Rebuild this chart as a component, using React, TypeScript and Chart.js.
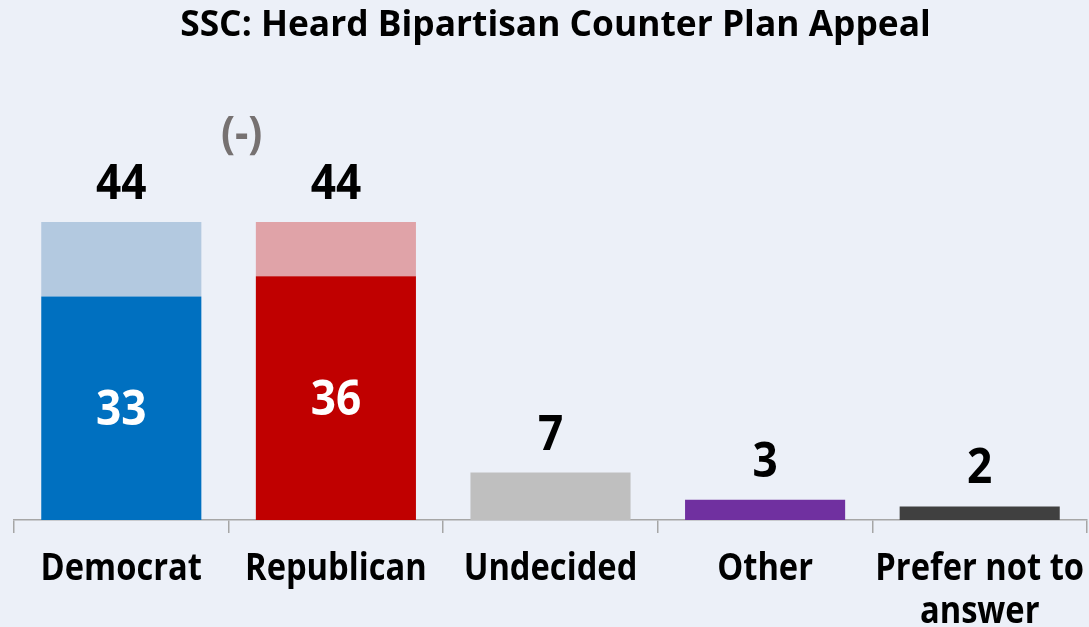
import React, { useEffect, useRef } from "react";
import { Chart, registerables } from "chart.js";

Chart.register(...registerables);

const chartTitle = "SSC: Heard Bipartisan Counter Plan Appeal";
const categories: (string | string[])[] = ["Democrat", "Republican", "Undecided", "Other", ["Prefer not to", "answer"]];
const heardValues = [33, 36, 7, 3, 2];
const addedValues = [11, 8, 0, 0, 0];
const solidColors = ["#0070C0", "#C00000", "#BFBFBF", "#7030A0", "#404040"];
const lightColors = ["#B3C9E0", "#E0A3A8", "#BFBFBF", "#7030A0", "#404040"];
const changeNote = "(-)";

const FONT = "'Open Sans', 'DejaVu Sans', sans-serif";
const BG = "#ECF0F8";

function drawText(
  ctx: CanvasRenderingContext2D,
  text: string,
  x: number,
  y: number,
  size: number,
  color: string,
  scaleX: number,
  baseline: CanvasTextBaseline = "alphabetic"
) {
  ctx.save();
  ctx.translate(x, y);
  ctx.scale(scaleX, 1);
  ctx.font = `bold ${size}px ${FONT}`;
  ctx.fillStyle = color;
  ctx.textAlign = "center";
  ctx.textBaseline = baseline;
  ctx.fillText(text, 0, 0);
  ctx.restore();
}

const decorPlugin = {
  id: "decor",
  beforeDraw(chart: any) {
    const { ctx, width, height } = chart;
    ctx.save();
    ctx.fillStyle = BG;
    ctx.fillRect(0, 0, width, height);
    ctx.restore();
  },
  afterDraw(chart: any) {
    const { ctx, chartArea } = chart;
    const x = chart.scales.x;
    const y = chart.scales.y;

    // Title
    drawText(ctx, chartTitle, (chartArea.left + chartArea.right) / 2 + 5, 36, 35, "#000", 1.01);

    // Category labels
    categories.forEach((cat, i) => {
      const cx = x.getPixelForValue(i);
      const lines = Array.isArray(cat) ? cat : [cat];
      lines.forEach((line, j) => {
        drawText(ctx, line, cx, chartArea.bottom + 60 + j * 43, 38, "#000", 0.86);
      });
    });

    // Totals above bars and heard values inside bars
    heardValues.forEach((v, i) => {
      const cx = x.getPixelForValue(i);
      const total = v + addedValues[i];
      const top = y.getPixelForValue(total);
      drawText(ctx, String(total), cx, top - 23, 48, "#000", 0.92);
      if (addedValues[i] > 0) {
        const mid = (y.getPixelForValue(0) + y.getPixelForValue(v)) / 2;
        drawText(ctx, String(v), cx, mid + 17, 48, "#FFFFFF", 0.92);
      }
    });

    // Change note between the two party bars
    const noteX = (x.getPixelForValue(0) + x.getPixelForValue(1)) / 2 + 13;
    const noteY = y.getPixelForValue(heardValues[0] + addedValues[0]) - 74;
    drawText(ctx, changeNote, noteX, noteY, 45, "#767171", 0.92);
  },
};

export default function App() {
  const canvasRef = useRef<HTMLCanvasElement | null>(null);

  useEffect(() => {
    document.body.style.margin = "0";
    const canvas = canvasRef.current;
    if (!canvas) return;
    const chart = new Chart(canvas, {
      type: "bar",
      data: {
        labels: categories as any,
        datasets: [
          {
            label: "Heard",
            data: heardValues,
            backgroundColor: solidColors,
            borderWidth: 0,
            categoryPercentage: 1,
            barPercentage: 0.746,
          },
          {
            label: "Added",
            data: addedValues,
            backgroundColor: lightColors,
            borderWidth: 0,
            categoryPercentage: 1,
            barPercentage: 0.746,
          },
        ],
      },
      options: {
        animation: false,
        responsive: false,
        maintainAspectRatio: false,
        layout: { padding: { top: 73, left: 14, right: 2, bottom: 94 } },
        plugins: {
          legend: { display: false },
          title: { display: false },
          tooltip: { enabled: false },
        },
        scales: {
          x: {
            stacked: true,
            ticks: { display: false },
            grid: {
              offset: true,
              drawOnChartArea: false,
              drawTicks: true,
              tickLength: 13,
              color: "#A6A6A6",
              lineWidth: 1.5,
            },
            border: { display: true, color: "#A6A6A6", width: 1.5 },
          },
          y: {
            stacked: true,
            display: false,
            min: 0,
            max: 66,
          },
        },
      },
      plugins: [decorPlugin],
    });
    return () => chart.destroy();
  }, []);

  return (
    <div style={{ width: 1089, height: 627 }}>
      <canvas ref={canvasRef} width={1089} height={627} style={{ display: "block" }} />
    </div>
  );
}
